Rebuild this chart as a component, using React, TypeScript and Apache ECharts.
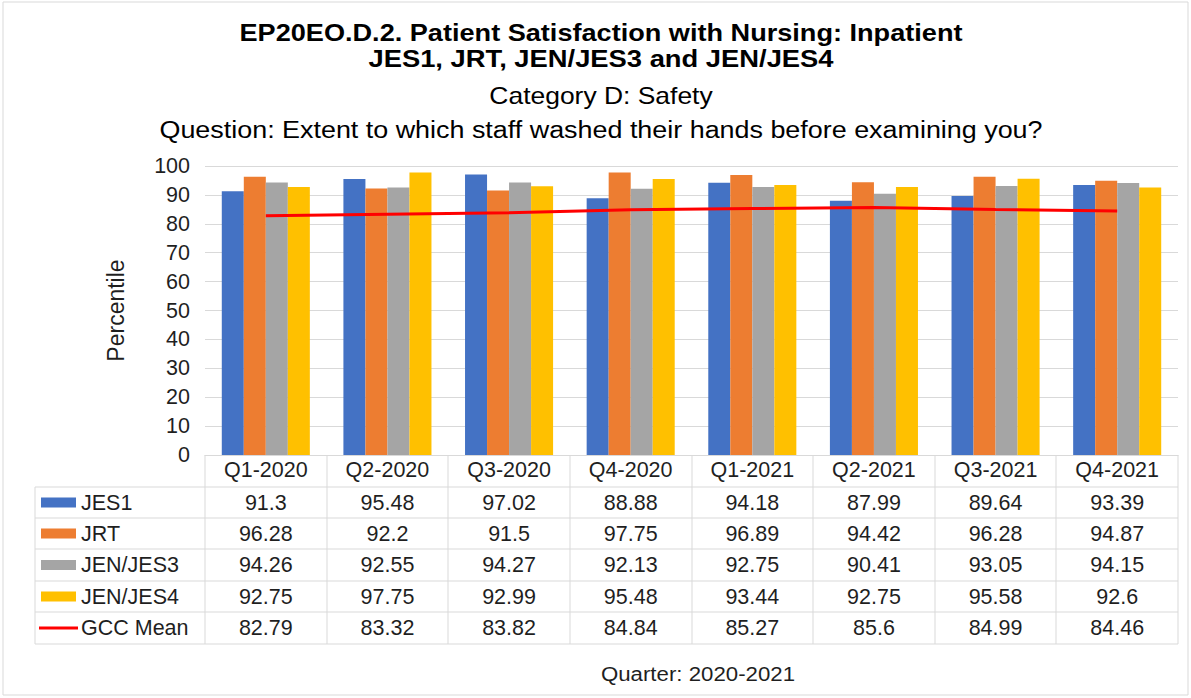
import React, { useEffect, useRef } from "react";
import * as echarts from "echarts";

const categories = ["Q1-2020", "Q2-2020", "Q3-2020", "Q4-2020", "Q1-2021", "Q2-2021", "Q3-2021", "Q4-2021"];
const jes1 = [91.3, 95.48, 97.02, 88.88, 94.18, 87.99, 89.64, 93.39];
const jrt = [96.28, 92.2, 91.5, 97.75, 96.89, 94.42, 96.28, 94.87];
const jes3 = [94.26, 92.55, 94.27, 92.13, 92.75, 90.41, 93.05, 94.15];
const jes4 = [92.75, 97.75, 92.99, 95.48, 93.44, 92.75, 95.58, 92.6];
const gccMean = [82.79, 83.32, 83.82, 84.84, 85.27, 85.6, 84.99, 84.46];
const yTicks = [0, 10, 20, 30, 40, 50, 60, 70, 80, 90, 100];

const titleLines = [
  { text: "EP20EO.D.2. Patient Satisfaction with Nursing: Inpatient", bold: true },
  { text: "JES1, JRT, JEN/JES3 and JEN/JES4", bold: true },
  { text: "Category D: Safety", bold: false },
  { text: "Question: Extent to which staff washed their hands before examining you?", bold: false },
];
const xAxisTitle = "Quarter: 2020-2021";
const yAxisTitle = "Percentile";

const seriesDefs = [
  { name: "JES1", data: jes1, color: "#4472C4", kind: "bar" },
  { name: "JRT", data: jrt, color: "#ED7D31", kind: "bar" },
  { name: "JEN/JES3", data: jes3, color: "#A5A5A5", kind: "bar" },
  { name: "JEN/JES4", data: jes4, color: "#FFC000", kind: "bar" },
  { name: "GCC Mean", data: gccMean, color: "#FF0000", kind: "line" },
];

const FONT = '"Liberation Sans", Arial, sans-serif';
const TXT = "#1f1f1f";
const GRID_L = 205;
const GRID_R = 1178;
const GRID_T = 166;
const GRID_B = 455;
const TABLE_L = 35;
const ROW_Y = [487, 518, 549, 581, 612, 644];
const LINE_C = "#D9D9D9";
const TITLE_Y = [33, 59, 96, 130];
const TITLE_SIZE = [24, 24, 23, 23];
const TITLE_SCALE = [1.13, 1.14, 1.15, 1.17];
const TABLE_FS = 21.5;

export default function App() {
  const ref = useRef<HTMLDivElement>(null);
  useEffect(() => {
    if (!ref.current) return;
    const chart = echarts.init(ref.current, null, { renderer: "svg" });
    const colW = (GRID_R - GRID_L) / categories.length;
    const g: any[] = [];
    g.push({ type: "rect", shape: { x: 3, y: 2, width: 1185, height: 693 }, style: { fill: "none", stroke: LINE_C, lineWidth: 1 }, silent: true });
    titleLines.forEach((t, i) => {
      g.push({
        type: "text", x: 601, y: TITLE_Y[i], scaleX: TITLE_SCALE[i], silent: true,
        style: { text: t.text, fill: "#000", font: `${t.bold ? "bold " : ""}${TITLE_SIZE[i]}px ${FONT}`, textAlign: "center", textVerticalAlign: "middle" },
      });
    });
    ROW_Y.forEach((y) => {
      g.push({ type: "line", shape: { x1: TABLE_L, y1: y, x2: GRID_R, y2: y }, style: { stroke: LINE_C, lineWidth: 1 }, silent: true });
    });
    g.push({ type: "line", shape: { x1: TABLE_L, y1: ROW_Y[0], x2: TABLE_L, y2: ROW_Y[ROW_Y.length - 1] }, style: { stroke: LINE_C, lineWidth: 1 }, silent: true });
    for (let i = 0; i <= categories.length; i++) {
      const x = Math.round(GRID_L + colW * i);
      g.push({ type: "line", shape: { x1: x, y1: GRID_B, x2: x, y2: ROW_Y[ROW_Y.length - 1] }, style: { stroke: LINE_C, lineWidth: 1 }, silent: true });
    }
    seriesDefs.forEach((s, r) => {
      const cy = (ROW_Y[r] + ROW_Y[r + 1]) / 2;
      if (s.kind === "bar") {
        g.push({ type: "rect", shape: { x: 41, y: cy - 5, width: 35, height: 10 }, style: { fill: s.color }, silent: true });
      } else {
        g.push({ type: "line", shape: { x1: 39, y1: cy, x2: 78, y2: cy }, style: { stroke: s.color, lineWidth: 3 }, silent: true });
      }
      g.push({ type: "text", x: 81, y: cy, style: { text: s.name, fill: TXT, font: `${TABLE_FS}px ${FONT}`, textAlign: "left", textVerticalAlign: "middle" }, silent: true });
      s.data.forEach((v, i) => {
        g.push({ type: "text", x: GRID_L + colW * (i + 0.5), y: cy, style: { text: String(v), fill: TXT, font: `${TABLE_FS}px ${FONT}`, textAlign: "center", textVerticalAlign: "middle" }, silent: true });
      });
    });
    g.push({ type: "text", x: 698, y: 674, scaleX: 1.06, style: { text: xAxisTitle, fill: TXT, font: `21px ${FONT}`, textAlign: "center", textVerticalAlign: "middle" }, silent: true });

    const option: any = {
      animation: false,
      backgroundColor: "#fff",
      grid: { left: GRID_L, right: 1191 - GRID_R, top: GRID_T, bottom: 698 - GRID_B, containLabel: false },
      xAxis: {
        type: "category",
        data: categories,
        boundaryGap: true,
        axisLine: { show: true, lineStyle: { color: LINE_C } },
        axisTick: { show: false },
        axisLabel: { margin: 4, color: TXT, fontFamily: FONT, fontSize: TABLE_FS },
      },
      yAxis: {
        type: "value",
        min: yTicks[0],
        max: yTicks[yTicks.length - 1],
        interval: 10,
        axisLine: { show: false },
        axisTick: { show: false },
        splitLine: { lineStyle: { color: LINE_C } },
        axisLabel: { margin: 15, color: TXT, fontFamily: FONT, fontSize: TABLE_FS },
        name: yAxisTitle,
        nameLocation: "middle",
        nameRotate: 90,
        nameGap: 78,
        nameTextStyle: { color: TXT, fontFamily: FONT, fontSize: 23 },
      },
      series: seriesDefs.map((s) =>
        s.kind === "bar"
          ? { type: "bar", name: s.name, data: s.data, itemStyle: { color: s.color }, barGap: "0%", barCategoryGap: "27.6%" }
          : { type: "line", name: s.name, data: s.data, lineStyle: { color: s.color, width: 3 }, itemStyle: { color: s.color }, showSymbol: false, symbol: "none", z: 5 }
      ),
      graphic: g,
    };
    chart.setOption(option);
    return () => chart.dispose();
  }, []);
  return <div ref={ref} style={{ position: "fixed", left: 0, top: 0, width: 1191, height: 698 }} />;
}
